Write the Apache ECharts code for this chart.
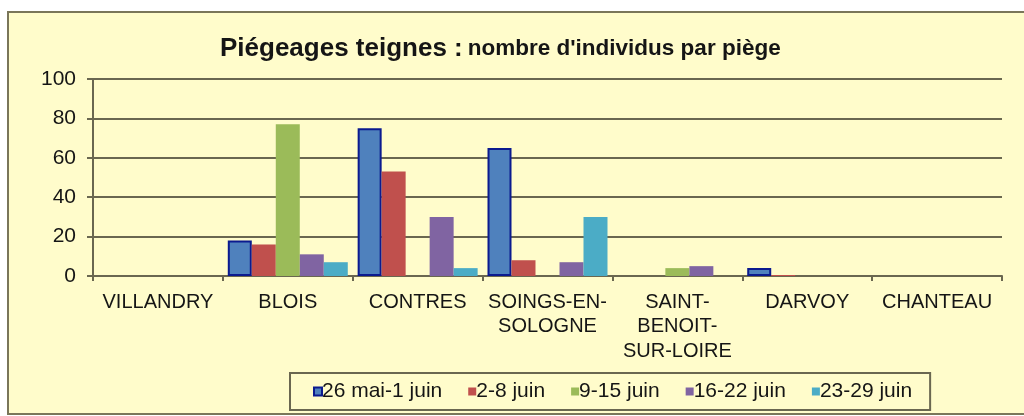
<!DOCTYPE html>
<html>
<head>
<meta charset="utf-8">
<script src="https://cdn.jsdelivr.net/npm/echarts@6/dist/echarts.min.js"></script>
<style>
html,body{margin:0;padding:0;background:#ffffff;}
#chart{width:1024px;height:416px;}
</style>
</head>
<body>
<div id="chart"></div>
<script>
const categories = ['VILLANDRY', 'BLOIS', 'CONTRES', 'SOINGS-EN-\nSOLOGNE', 'SAINT-\nBENOIT-\nSUR-LOIRE', 'DARVOY', 'CHANTEAU'];
const seriesNames = ['26 mai-1 juin', '2-8 juin', '9-15 juin', '16-22 juin', '23-29 juin'];
const week1 = [0, 18, 75, 65, 0, 4, 0];
const week2 = [0, 16, 53, 8, 0, 0.5, 0];
const week3 = [0, 77, 0, 0, 4, 0, 0];
const week4 = [0, 11, 30, 7, 5, 0, 0];
const week5 = [0, 7, 4, 30, 0, 0, 0];
const yTicks = [0, 20, 40, 60, 80, 100];

const colors = ['#4F81BD', '#C0504D', '#9BBB59', '#8064A2', '#4BACC6'];
const values = [week1, week2, week3, week4, week5];
const FONT = '"Liberation Sans", Arial, sans-serif';
const lineCol = '#6a6750';

const chart = echarts.init(document.getElementById('chart'), null, {renderer: 'canvas'});
chart.setOption({
  animation: false,
  backgroundColor: '#ffffff',
  graphic: [{
    type: 'rect', z: -10, silent: true,
    shape: {x: 8, y: 12, width: 1030, height: 402},
    style: {fill: '#FFFCCB', stroke: '#7a7659', lineWidth: 2}
  }],
  title: {
    text: '{a|Piégeages teignes :} {b|nombre d\'individus par piège}',
    left: 215, top: 28,
    textStyle: {
      rich: {
        a: {fontFamily: FONT, fontSize: 26, fontWeight: 'bold', color: '#151515', lineHeight: 32},
        b: {fontFamily: FONT, fontSize: 22.5, fontWeight: 'bold', color: '#151515', lineHeight: 32}
      }
    }
  },
  legend: {
    data: seriesNames,
    left: 290, top: 373,
    padding: [8, 18, 8, 23],
    itemWidth: 8, itemHeight: 8, itemGap: 26,
    borderColor: '#6a6750', borderWidth: 2,
    textStyle: {fontFamily: FONT, fontSize: 21, color: '#151515', padding: [0, 0, 0, -5]},
    icon: 'rect'
  },
  grid: {left: 93, right: 22, top: 79, bottom: 140, containLabel: false},
  xAxis: {
    type: 'category',
    data: categories,
    axisLine: {lineStyle: {color: lineCol, width: 2}},
    axisTick: {show: true, length: 5, lineStyle: {color: lineCol, width: 2}},
    axisLabel: {interval: 0, margin: 14, fontFamily: FONT, fontSize: 20, color: '#151515', lineHeight: 24.5}
  },
  yAxis: {
    type: 'value', min: 0, max: 100, interval: 20,
    axisLine: {show: true, lineStyle: {color: lineCol, width: 2}},
    axisTick: {show: true, length: 6, lineStyle: {color: lineCol, width: 2}},
    splitLine: {show: true, lineStyle: {color: lineCol, width: 2}},
    axisLabel: {margin: 17, fontFamily: FONT, fontSize: 21, color: '#151515',
      formatter: v => yTicks.includes(v) ? String(v) : ''}
  },
  series: seriesNames.map((name, i) => ({
    name: name,
    type: 'bar',
    data: values[i].map(v => (i === 0 && v === 0) ? {value: v, itemStyle: {borderWidth: 0}} : v),
    barGap: '0%',
    barCategoryGap: '7.6%',
    itemStyle: i === 0
      ? {color: colors[i], borderColor: '#0B1A8F', borderWidth: 2}
      : {color: colors[i]}
  }))
});
</script>
</body>
</html>
